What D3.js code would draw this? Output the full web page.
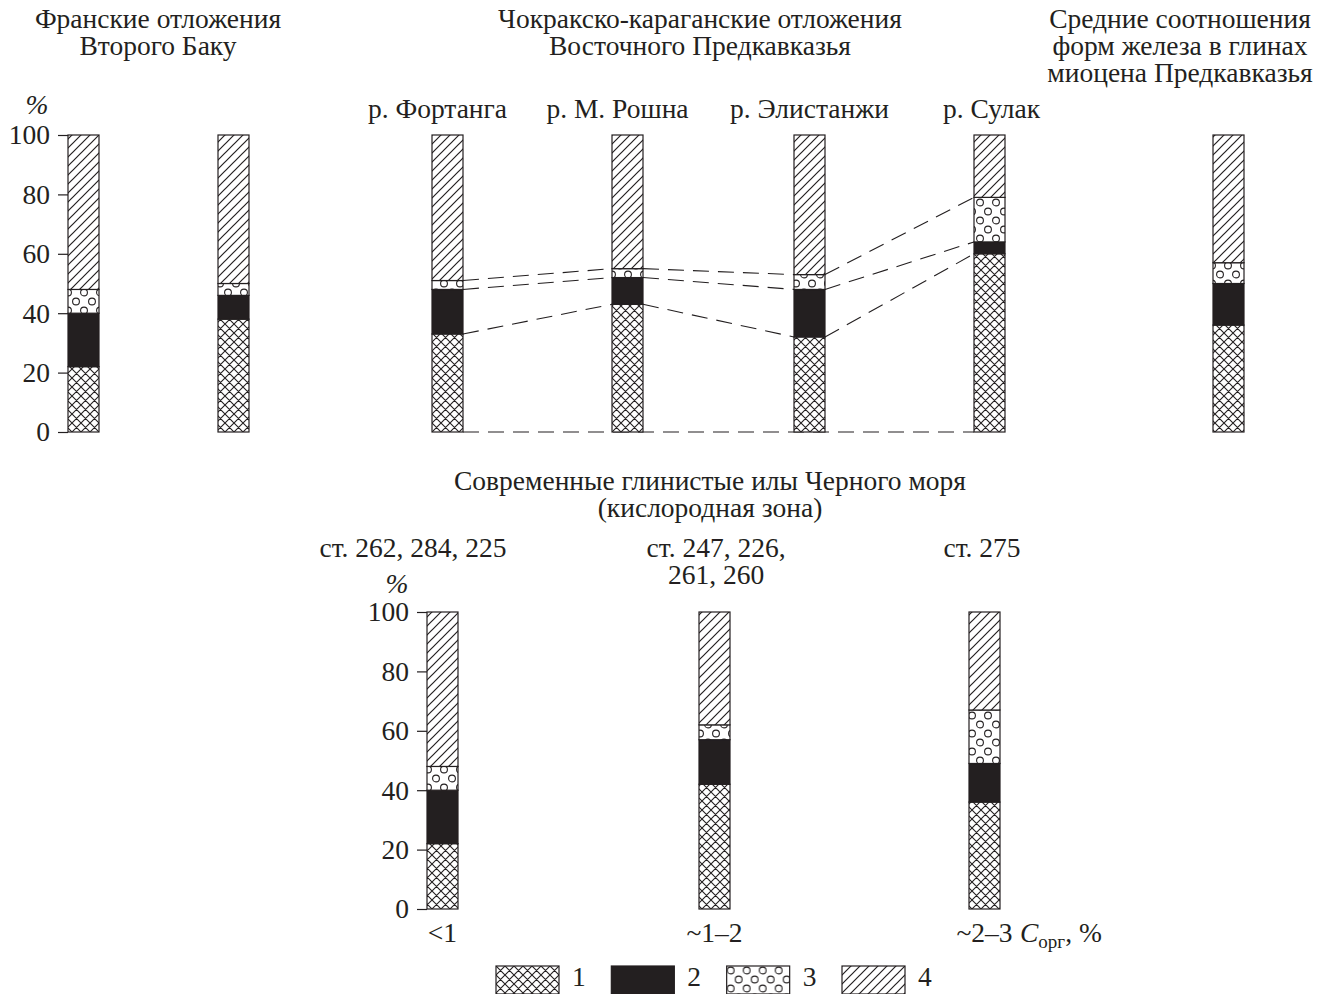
<!DOCTYPE html>
<html lang="ru">
<head>
<meta charset="utf-8">
<title>Формы железа в глинистых отложениях</title>
<script src="https://cdn.jsdelivr.net/npm/d3@7"></script>
<style>
  html, body { margin: 0; padding: 0; background: #fff; }
  svg { display: block; }
  text { font-family: "Liberation Serif", "Times New Roman", serif; fill: #231f20; }
</style>
</head>
<body>
<svg id="chart" width="1324" height="994"></svg>
<script>
// Iron forms: 1 – 4 (shares, % of total iron), bottom to top in every column
const forms = ["1", "2", "3", "4"];
const yTicks = [0, 20, 40, 60, 80, 100];

// Upper row: Frasnian deposits, Chokrak–Karagan deposits by river, Miocene mean
const topColumns = ["frasnian-a", "frasnian-b", "fortanga", "roshna", "elistanzhi", "sulak", "miocene-mean"];
const riverColumns = ["fortanga", "roshna", "elistanzhi", "sulak"];
const riverNames = ["р. Фортанга", "р. М. Рошна", "р. Элистанжи", "р. Сулак"];
const topForm1 = [22, 38, 33, 43, 32, 60, 36];
const topForm2 = [18, 8, 15, 9, 16, 4, 14];
const topForm3 = [8, 4, 3, 3, 5, 15, 7];
const topForm4 = [52, 50, 49, 45, 47, 21, 43];

// Lower row: modern Black Sea clay muds, grouped by organic carbon content
const bottomColumns = ["<1", "~1–2", "~2–3"];
const bottomStations = [["ст. 262, 284, 225"], ["ст. 247, 226,", "261, 260"], ["ст. 275"]];
const bottomForm1 = [22, 42, 36];
const bottomForm2 = [18, 15, 13];
const bottomForm3 = [8, 5, 18];
const bottomForm4 = [52, 38, 33];

const INK = "#231f20";
const FONT = 27.5;
const BAR_W = 31;

const svg = d3.select("#chart");
svg.append("rect").attr("width", 1324).attr("height", 994).attr("fill", "#fff");

// ---- fill patterns -------------------------------------------------------
const defs = svg.append("defs");

const cross = defs.append("pattern").attr("id", "pat-1")
  .attr("patternUnits", "userSpaceOnUse").attr("width", 9).attr("height", 9);
cross.append("rect").attr("width", 9).attr("height", 9).attr("fill", "#fff");
cross.append("path")
  .attr("d", "M0,0L9,9M0,9L9,0M-1,1L1,-1M8,10L10,8M-1,8L1,10M8,-1L10,1")
  .attr("stroke", INK).attr("stroke-width", 1.1).attr("fill", "none");

const dots = defs.append("pattern").attr("id", "pat-3")
  .attr("patternUnits", "userSpaceOnUse").attr("width", 16).attr("height", 18);
dots.append("rect").attr("width", 16).attr("height", 18).attr("fill", "#fff");
[[4, 4.5], [12, 13.5]].forEach(([cx, cy]) => {
  dots.append("circle").attr("cx", cx).attr("cy", cy).attr("r", 3.4)
    .attr("fill", "none").attr("stroke", INK).attr("stroke-width", 1.1);
});

const hatch = defs.append("pattern").attr("id", "pat-4")
  .attr("patternUnits", "userSpaceOnUse").attr("width", 9).attr("height", 9);
hatch.append("rect").attr("width", 9).attr("height", 9).attr("fill", "#fff");
hatch.append("path")
  .attr("d", "M0,9L9,0M-1,1L1,-1M8,10L10,8")
  .attr("stroke", INK).attr("stroke-width", 1.2).attr("fill", "none");

const formFill = d3.scaleOrdinal()
  .domain(forms)
  .range(["url(#pat-1)", INK, "url(#pat-3)", "url(#pat-4)"]);

// ---- helpers --------------------------------------------------------------
function rows(ids, f1, f2, f3, f4) {
  return ids.map((id, i) => ({ id, "1": f1[i], "2": f2[i], "3": f3[i], "4": f4[i] }));
}

function drawAxis(g, y, xLeft) {
  const ax = g.append("g")
    .attr("transform", `translate(${xLeft},0)`)
    .call(d3.axisLeft(y).tickValues(yTicks).tickSize(10).tickPadding(8));
  ax.select(".domain").remove();
  ax.selectAll(".tick line").attr("stroke", INK).attr("stroke-width", 1.2);
  ax.selectAll(".tick text")
    .attr("font-family", "Liberation Serif, serif")
    .attr("font-size", FONT).attr("fill", INK);
}

function drawBars(g, series, x, y) {
  const layer = g.selectAll("g.form").data(series).join("g").attr("class", "form");
  layer.selectAll("rect")
    .data(s => s.map(d => Object.assign(d, { key: s.key })))
    .join("rect")
    .attr("x", d => x(d.data.id))
    .attr("width", BAR_W)
    .attr("y", d => y(d[1]))
    .attr("height", d => y(d[0]) - y(d[1]))
    .attr("fill", d => formFill(d.key))
    .attr("stroke", INK)
    .attr("stroke-width", 1.2);
}

function lines(g, strings, cx, y0, step) {
  strings.forEach((s, i) => {
    g.append("text").attr("x", cx).attr("y", y0 + i * step)
      .attr("text-anchor", "middle").attr("font-size", FONT).text(s);
  });
}

const stack = d3.stack().keys(forms);

// ---- upper row ------------------------------------------------------------
const yTop = d3.scaleLinear().domain([0, 100]).range([432, 135]);
const xTop = d3.scaleOrdinal()
  .domain(topColumns)
  .range([68, 218, 432, 612, 794, 974, 1213]);

const topSeries = stack(rows(topColumns, topForm1, topForm2, topForm3, topForm4));
const gTop = svg.append("g");

// dashed correlation lines between the river columns
const gLinks = gTop.append("g")
  .attr("fill", "none").attr("stroke", INK)
  .attr("stroke-width", 1.1).attr("stroke-dasharray", "16,9");

gLinks.append("line")
  .attr("x1", xTop(riverColumns[0]) + BAR_W)
  .attr("x2", xTop(riverColumns[riverColumns.length - 1]))
  .attr("y1", yTop(0)).attr("y2", yTop(0));

const riverIdx = riverColumns.map(id => topColumns.indexOf(id));
[0, 1, 2].forEach(level => {
  const cum = topSeries[level];
  for (let k = 0; k < riverIdx.length - 1; k++) {
    const a = cum[riverIdx[k]], b = cum[riverIdx[k + 1]];
    gLinks.append("line")
      .attr("x1", xTop(a.data.id) + BAR_W).attr("y1", yTop(a[1]))
      .attr("x2", xTop(b.data.id)).attr("y2", yTop(b[1]));
  }
});

drawBars(gTop, topSeries, xTop, yTop);
drawAxis(gTop, yTop, xTop(topColumns[0]));

gTop.append("text").attr("x", 37).attr("y", 114).attr("text-anchor", "middle")
  .attr("font-size", FONT).attr("font-style", "italic").text("%");

lines(gTop, ["Франские отложения", "Второго Баку"], 158, 28, 27);
lines(gTop, ["Чокракско-караганские отложения", "Восточного Предкавказья"], 700, 28, 27);
lines(gTop, ["Средние соотношения", "форм железа в глинах", "миоцена Предкавказья"], 1180, 28, 27);

const riverShift = [-10, -10, 0, 2];
riverColumns.forEach((id, i) => {
  gTop.append("text")
    .attr("x", xTop(id) + BAR_W / 2 + riverShift[i])
    .attr("y", 118).attr("text-anchor", "middle")
    .attr("font-size", FONT).text(riverNames[i]);
});

// ---- lower row ------------------------------------------------------------
const yBot = d3.scaleLinear().domain([0, 100]).range([909, 612]);
const xBot = d3.scaleOrdinal().domain(bottomColumns).range([427, 699, 969]);
const botSeries = stack(rows(bottomColumns, bottomForm1, bottomForm2, bottomForm3, bottomForm4));
const gBot = svg.append("g");

drawBars(gBot, botSeries, xBot, yBot);
drawAxis(gBot, yBot, xBot(bottomColumns[0]));

gBot.append("text").attr("x", 397).attr("y", 593).attr("text-anchor", "middle")
  .attr("font-size", FONT).attr("font-style", "italic").text("%");

lines(gBot, ["Современные глинистые илы Черного моря", "(кислородная зона)"], 710, 490, 27);
const stationX = [413, 716, 982];
bottomStations.forEach((s, i) => lines(gBot, s, stationX[i], 557, 27));

bottomColumns.forEach(id => {
  gBot.append("text").attr("x", xBot(id) + BAR_W / 2).attr("y", 942)
    .attr("text-anchor", "middle").attr("font-size", FONT).text(id);
});
const unit = gBot.append("text")
  .attr("x", xBot(bottomColumns[2]) + BAR_W + 20).attr("y", 942)
  .attr("font-size", FONT);
unit.append("tspan").attr("font-style", "italic").text("C");
unit.append("tspan").attr("font-size", 19).attr("dy", 6).text("орг");
unit.append("tspan").attr("dy", -6).text(", %");

// ---- legend ---------------------------------------------------------------
const legendX = d3.scalePoint().domain(forms).range([496, 842]);
const gLeg = svg.append("g").selectAll("g").data(forms).join("g")
  .attr("transform", d => `translate(${legendX(d)},966)`);
gLeg.append("rect").attr("width", 63).attr("height", 28)
  .attr("fill", d => formFill(d)).attr("stroke", INK).attr("stroke-width", 1.2);
gLeg.append("text").attr("x", 76).attr("y", 20).attr("font-size", FONT).text(d => d);
</script>
</body>
</html>
